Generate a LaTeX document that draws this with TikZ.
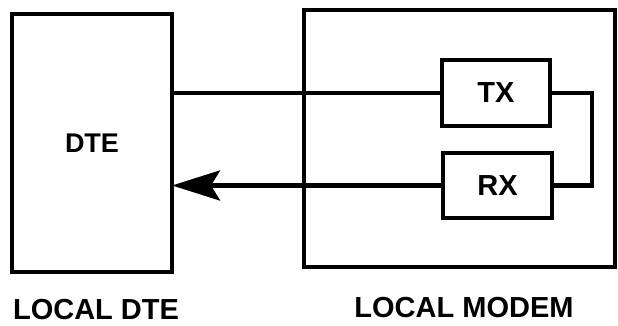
\documentclass[tikz,border=0pt]{standalone}
\usepackage{fontspec}
\setmainfont{Liberation Sans}
\usetikzlibrary{arrows.meta}
\begin{document}
\begin{tikzpicture}[x=1pt,y=-1pt,
  blk/.style={draw, line width=4.5pt, inner sep=0pt, outer sep=0pt},
  wire/.style={line width=4.5pt},
  lbl/.style={font=\fontsize{29}{32}\selectfont\bfseries, inner sep=0pt}]
\useasboundingbox (0,0) rectangle (618,326);
\node[blk, minimum width=160pt, minimum height=258pt, font=\fontsize{27}{30}\selectfont\bfseries] (dte) at (92,143) {DTE};
\node[blk, minimum width=311pt, minimum height=257pt] (modem) at (459.5,138.5) {};
\node[blk, minimum width=108pt, minimum height=66pt, font=\fontsize{29}{32}\selectfont\bfseries] (tx) at (496,93) {TX};
\node[blk, minimum width=109pt, minimum height=65pt, font=\fontsize{29}{32}\selectfont\bfseries] (rx) at (497.5,185.5) {RX};
\draw[wire] (tx.west) -- (tx.west -| dte.east);
\draw[wire, -{Stealth[length=48pt, width=30pt, inset=9pt]}] (rx.west) -- (rx.west -| dte.east);
\draw[wire] (tx.east) -- ++(42,0) |- (rx.east);
\node[lbl] (ldte) at (96,310) {LOCAL DTE};
\node[lbl] (lmodem) at (464,308) {LOCAL MODEM};
\end{tikzpicture}
\end{document}
